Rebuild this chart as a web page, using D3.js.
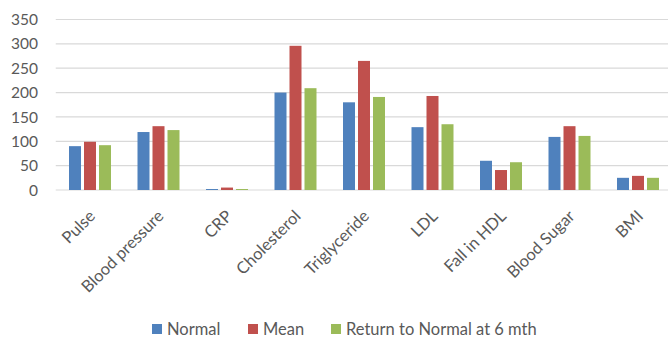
<!DOCTYPE html>
<html><head><meta charset="utf-8">
<script src="https://cdn.jsdelivr.net/npm/d3@7"></script>
<style>body{margin:0;background:#fff;}svg{display:block;font-family:Lato,"Open Sans",sans-serif;}</style>
</head><body>
<svg id="c" width="668" height="340"></svg>
<script>
const categories = ["Pulse","Blood pressure","CRP","Cholesterol","Triglyceride","LDL","Fall in HDL","Blood Sugar","BMI"];
const seriesNames = ["Normal","Mean","Return to Normal at 6 mth"];
const normal = [90,119,2,200,180,129,60,109,25];
const mean = [99,131,5,296,265,193,41,131,29];
const returnNormal = [92,123,2,209,191,135,57,111,25];
const yTicks = [0,50,100,150,200,250,300,350];
const colors = ["#4F81BD","#C0504D","#9BBB59"];

const series = [normal, mean, returnNormal];
const svg = d3.select("#c");
const left = 55.75, bandW = 68.5;
const x = d3.scaleBand().domain(categories).range([left, left + bandW*categories.length]).paddingInner(0).paddingOuter(0);
const y = d3.scaleLinear().domain([0,350]).range([190, 19.5]);
const xs = d3.scaleBand().domain(d3.range(3)).range([0, 42]).paddingInner(0.2);

// gridlines
svg.append("g").selectAll("line").data(yTicks).join("line")
  .attr("x1", left).attr("x2", 668)
  .attr("y1", d=>y(d)).attr("y2", d=>y(d))
  .attr("stroke", "#d9d9d9").attr("stroke-width", 1.2);

// y labels
svg.append("g").selectAll("text").data(yTicks).join("text")
  .attr("x", 38).attr("y", d=>y(d)).attr("dy","0.36em")
  .attr("text-anchor","end").attr("fill","#595959").style("font-size","15.5px")
  .text(d=>d);

// bars
const g = svg.append("g");
series.forEach((s, si) => {
  g.append("g").selectAll("rect").data(categories).join("rect")
    .attr("x", (c)=> x(c) + x.bandwidth()/2 - 21 + xs(si))
    .attr("y", (c,i)=> y(s[i]))
    .attr("width", 12)
    .attr("height", (c,i)=> y(0) - y(s[i]))
    .attr("fill", colors[si]);
});

// x labels
svg.append("g").selectAll("text").data(categories).join("text")
  .attr("transform", c => `translate(${x(c)+x.bandwidth()/2-2},${209}) rotate(-45)`)
  .attr("text-anchor","end").attr("dy","0.7em")
  .attr("fill","#595959").style("font-size","16.5px")
  .text(c=>c);

// legend
const legX = [152, 248, 331];
const lg = svg.append("g");
seriesNames.forEach((n,i)=>{
  lg.append("rect").attr("x", legX[i]).attr("y", 324).attr("width",10).attr("height",10).attr("fill", colors[i]);
  lg.append("text").attr("x", legX[i]+15).attr("y", 335).attr("fill","#595959").style("font-size","16.5px").text(n);
});
</script>
</body></html>
